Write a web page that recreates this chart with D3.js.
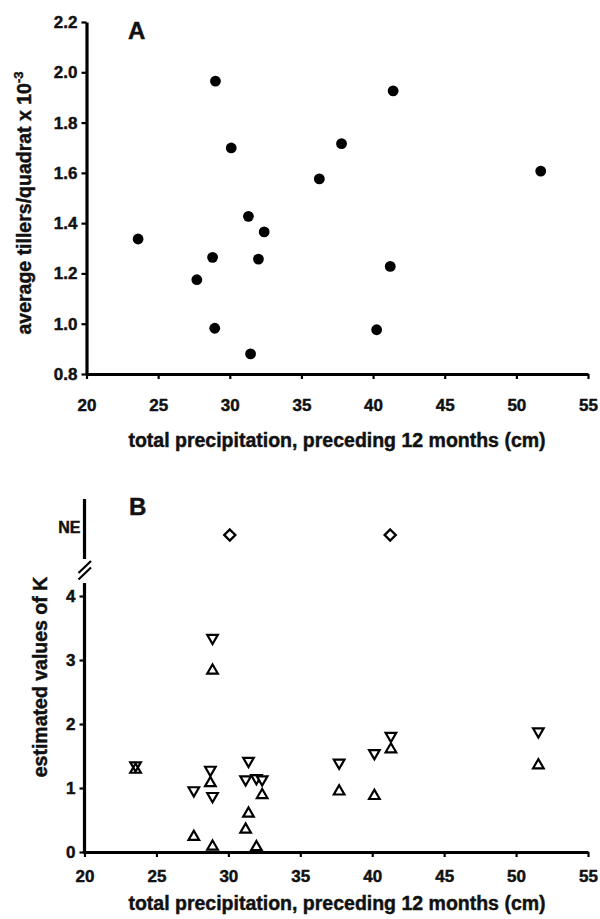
<!DOCTYPE html>
<html>
<head>
<meta charset="utf-8">
<script src="https://cdn.jsdelivr.net/npm/d3@7"></script>
<style>
  html, body { margin: 0; padding: 0; background: #fff; }
  svg text { font-family: "Liberation Sans", Arial, sans-serif; font-weight: bold; fill: #111; stroke: #111; stroke-width: 0.45px; }
</style>
</head>
<body>
<svg id="chart"></svg>
<script>
// Panel A: tillers vs precipitation
const precipA = [23.6, 27.7, 28.8, 28.95, 29.0, 30.1, 31.3, 31.45, 32.0, 32.4, 36.25, 37.8, 40.25, 41.2, 41.4, 51.7];
const tillers = [1.337, 1.175, 1.264, 0.982, 1.965, 1.699, 1.427, 0.880, 1.257, 1.365, 1.576, 1.716, 0.976, 1.228, 1.926, 1.607];

// Panel B: estimated K (down and up triangles), NE = not estimable
const precipB = [23.55, 27.6, 28.75, 28.9, 28.9, 31.2, 31.4, 31.95, 32.35, 37.7, 40.15, 41.3, 51.55];
const kDown   = [1.33, 0.94, 1.26, 0.85, 3.32, 1.11, 1.40, 1.13, 1.11, 1.37, 1.52, 1.79, 1.86];
const kUp     = [1.31, 0.26, 1.10, 0.11, 2.86, 0.375, 0.625, 0.10, 0.915, 0.97, 0.90, 1.63, 1.38];
const precipNE = [30.1, 41.25];

const xTicks = [20, 25, 30, 35, 40, 45, 50, 55];
const yTicksA = [0.8, 1.0, 1.2, 1.4, 1.6, 1.8, 2.0, 2.2];
const yTicksB = [0, 1, 2, 3, 4];
const xTitle = "total precipitation, preceding 12 months (cm)";

const width = 600, height = 919;
const svg = d3.select("#chart").attr("width", width).attr("height", height);

function styleAxis(g) {
  g.selectAll(".domain").attr("stroke", "#000").attr("stroke-width", 3.2);
  g.selectAll(".tick line").attr("stroke", "#000").attr("stroke-width", 2.2);
  g.selectAll(".tick text")
    .style("font-size", "17px")
    .style("font-weight", "bold")
    .style("font-family", "'Liberation Sans', Arial, sans-serif");
}

// ---------- Panel A ----------
const xA = d3.scaleLinear().domain([20, 55]).range([86.5, 588]);
const yA = d3.scaleLinear().domain([0.8, 2.2]).range([374, 22]);

svg.append("g")
  .attr("transform", `translate(0, ${yA(0.8)})`)
  .call(d3.axisBottom(xA).tickValues(xTicks).tickSize(5).tickSizeOuter(0).tickPadding(20))
  .call(styleAxis);

svg.append("g")
  .attr("transform", `translate(${xA(20)}, 0)`)
  .call(d3.axisLeft(yA).tickValues(yTicksA).tickFormat(d3.format(".1f")).tickSize(5).tickSizeOuter(0).tickPadding(4))
  .call(styleAxis);

svg.append("g").selectAll("circle")
  .data(precipA)
  .join("circle")
  .attr("cx", d => xA(d))
  .attr("cy", (d, i) => yA(tillers[i]))
  .attr("r", 5.4)
  .attr("fill", "#000");

svg.append("text").attr("x", 128).attr("y", 39).style("font-size", "24px").text("A");

const yLabA = svg.append("text")
  .attr("transform", "translate(31, 203) rotate(-90)")
  .attr("text-anchor", "middle")
  .style("font-size", "19.5px");
yLabA.append("tspan").text("average tillers/quadrat x 10");
yLabA.append("tspan").attr("dy", -8).style("font-size", "13px").text("-3");

svg.append("text")
  .attr("x", 337).attr("y", 447)
  .attr("text-anchor", "middle")
  .style("font-size", "19.5px")
  .text(xTitle);

// ---------- Panel B ----------
const xB = d3.scaleLinear().domain([20, 55]).range([84.5, 588]);
const yB = d3.scaleLinear().domain([0, 4]).range([852, 596]);
const yNE = d3.scalePoint().domain(["NE"]).range([505, 559]).padding(0.5);

svg.append("g")
  .attr("transform", `translate(0, ${yB(0)})`)
  .call(d3.axisBottom(xB).tickValues(xTicks).tickSize(5).tickSizeOuter(0).tickPadding(13))
  .call(styleAxis);

const yAxB = svg.append("g")
  .attr("transform", `translate(${xB(20)}, 0)`)
  .call(d3.axisLeft(yB).tickValues(yTicksB).tickFormat(d3.format("d")).tickSize(5).tickSizeOuter(0).tickPadding(4))
  .call(styleAxis);
yAxB.select(".domain").remove();

// lower and upper segments of the broken axis
svg.append("line")
  .attr("x1", xB(20)).attr("x2", xB(20))
  .attr("y1", 583).attr("y2", yB(0) + 1.6)
  .attr("stroke", "#000").attr("stroke-width", 3.2);
svg.append("line")
  .attr("x1", xB(20)).attr("x2", xB(20))
  .attr("y1", 499).attr("y2", 559)
  .attr("stroke", "#000").attr("stroke-width", 3.2);
// break marks
[0, 6.5].forEach(off => {
  svg.append("line")
    .attr("x1", xB(20) - 6).attr("y1", 573 + off)
    .attr("x2", xB(20) + 6.5).attr("y2", 561 + off)
    .attr("stroke", "#000").attr("stroke-width", 2.2);
});

svg.append("text")
  .attr("x", xB(20) - 4).attr("y", yNE("NE") + 1)
  .attr("text-anchor", "end")
  .style("font-size", "16px")
  .text("NE");

// triangles: s = half width, h = half height
const s = 5.3, h = 4.6;
const downTri = (cx, cy) => `M${cx - s},${cy - h}L${cx + s},${cy - h}L${cx},${cy + h}Z`;
const upTri = (cx, cy) => `M${cx - s},${cy + h}L${cx + s},${cy + h}L${cx},${cy - h}Z`;

svg.append("g").selectAll("path.down")
  .data(precipB)
  .join("path")
  .attr("class", "down")
  .attr("d", (d, i) => downTri(xB(d), yB(kDown[i])))
  .attr("fill", "#fff").attr("stroke", "#000").attr("stroke-width", 2.2).attr("stroke-linejoin", "miter");

svg.append("g").selectAll("path.up")
  .data(precipB)
  .join("path")
  .attr("class", "up")
  .attr("d", (d, i) => upTri(xB(d), yB(kUp[i])))
  .attr("fill", "none").attr("stroke", "#000").attr("stroke-width", 2.2).attr("stroke-linejoin", "miter");

svg.append("g").selectAll("path.ne")
  .data(precipNE)
  .join("path")
  .attr("class", "ne")
  .attr("d", d => {
    const cx = xB(d), cy = yNE("NE") + 3, r = 5.5;
    return `M${cx},${cy - r}L${cx + r},${cy}L${cx},${cy + r}L${cx - r},${cy}Z`;
  })
  .attr("fill", "#fff").attr("stroke", "#000").attr("stroke-width", 2.4);

svg.append("text").attr("x", 129).attr("y", 515).style("font-size", "24px").text("B");

svg.append("text")
  .attr("transform", "translate(47, 677) rotate(-90)")
  .attr("text-anchor", "middle")
  .style("font-size", "19.5px")
  .text("estimated values of K");

svg.append("text")
  .attr("x", 337).attr("y", 910)
  .attr("text-anchor", "middle")
  .style("font-size", "19.5px")
  .text(xTitle);
</script>
</body>
</html>
